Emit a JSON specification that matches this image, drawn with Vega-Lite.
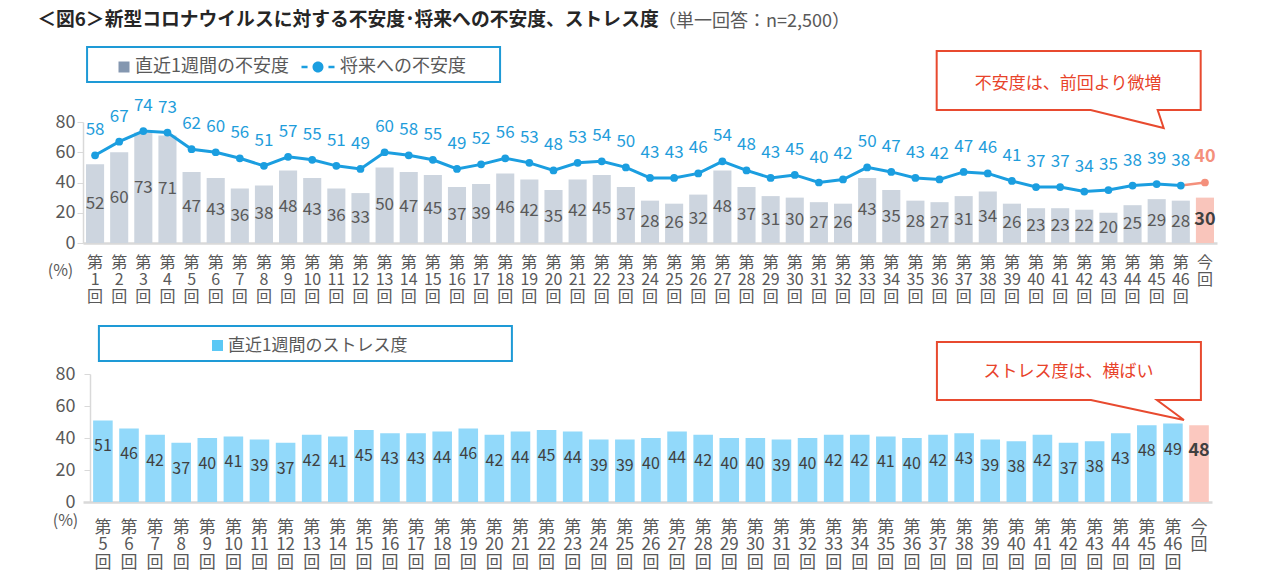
{
  "$schema": "https://vega.github.io/schema/vega-lite/v6.json",
  "background": "white",
  "padding": {"left": 37, "top": 10, "right": 5, "bottom": 5},
  "title": {
    "text": "＜図6＞新型コロナウイルスに対する不安度･将来への不安度、ストレス度",
    "anchor": "start",
    "frame": "bounds",
    "dx": -10,
    "font": "Noto Sans CJK JP",
    "fontSize": 18.8,
    "fontWeight": "bold",
    "color": "#262626",
    "offset": -17
  },
  "datasets": {
    "top": [
      {"r": "第1回", "直近1週間の不安度": 52, "将来への不安度": 58},
      {"r": "第2回", "直近1週間の不安度": 60, "将来への不安度": 67},
      {"r": "第3回", "直近1週間の不安度": 73, "将来への不安度": 74},
      {"r": "第4回", "直近1週間の不安度": 71, "将来への不安度": 73},
      {"r": "第5回", "直近1週間の不安度": 47, "将来への不安度": 62},
      {"r": "第6回", "直近1週間の不安度": 43, "将来への不安度": 60},
      {"r": "第7回", "直近1週間の不安度": 36, "将来への不安度": 56},
      {"r": "第8回", "直近1週間の不安度": 38, "将来への不安度": 51},
      {"r": "第9回", "直近1週間の不安度": 48, "将来への不安度": 57},
      {"r": "第10回", "直近1週間の不安度": 43, "将来への不安度": 55},
      {"r": "第11回", "直近1週間の不安度": 36, "将来への不安度": 51},
      {"r": "第12回", "直近1週間の不安度": 33, "将来への不安度": 49},
      {"r": "第13回", "直近1週間の不安度": 50, "将来への不安度": 60},
      {"r": "第14回", "直近1週間の不安度": 47, "将来への不安度": 58},
      {"r": "第15回", "直近1週間の不安度": 45, "将来への不安度": 55},
      {"r": "第16回", "直近1週間の不安度": 37, "将来への不安度": 49},
      {"r": "第17回", "直近1週間の不安度": 39, "将来への不安度": 52},
      {"r": "第18回", "直近1週間の不安度": 46, "将来への不安度": 56},
      {"r": "第19回", "直近1週間の不安度": 42, "将来への不安度": 53},
      {"r": "第20回", "直近1週間の不安度": 35, "将来への不安度": 48},
      {"r": "第21回", "直近1週間の不安度": 42, "将来への不安度": 53},
      {"r": "第22回", "直近1週間の不安度": 45, "将来への不安度": 54},
      {"r": "第23回", "直近1週間の不安度": 37, "将来への不安度": 50},
      {"r": "第24回", "直近1週間の不安度": 28, "将来への不安度": 43},
      {"r": "第25回", "直近1週間の不安度": 26, "将来への不安度": 43},
      {"r": "第26回", "直近1週間の不安度": 32, "将来への不安度": 46},
      {"r": "第27回", "直近1週間の不安度": 48, "将来への不安度": 54},
      {"r": "第28回", "直近1週間の不安度": 37, "将来への不安度": 48},
      {"r": "第29回", "直近1週間の不安度": 31, "将来への不安度": 43},
      {"r": "第30回", "直近1週間の不安度": 30, "将来への不安度": 45},
      {"r": "第31回", "直近1週間の不安度": 27, "将来への不安度": 40},
      {"r": "第32回", "直近1週間の不安度": 26, "将来への不安度": 42},
      {"r": "第33回", "直近1週間の不安度": 43, "将来への不安度": 50},
      {"r": "第34回", "直近1週間の不安度": 35, "将来への不安度": 47},
      {"r": "第35回", "直近1週間の不安度": 28, "将来への不安度": 43},
      {"r": "第36回", "直近1週間の不安度": 27, "将来への不安度": 42},
      {"r": "第37回", "直近1週間の不安度": 31, "将来への不安度": 47},
      {"r": "第38回", "直近1週間の不安度": 34, "将来への不安度": 46},
      {"r": "第39回", "直近1週間の不安度": 26, "将来への不安度": 41},
      {"r": "第40回", "直近1週間の不安度": 23, "将来への不安度": 37},
      {"r": "第41回", "直近1週間の不安度": 23, "将来への不安度": 37},
      {"r": "第42回", "直近1週間の不安度": 22, "将来への不安度": 34},
      {"r": "第43回", "直近1週間の不安度": 20, "将来への不安度": 35},
      {"r": "第44回", "直近1週間の不安度": 25, "将来への不安度": 38},
      {"r": "第45回", "直近1週間の不安度": 29, "将来への不安度": 39},
      {"r": "第46回", "直近1週間の不安度": 28, "将来への不安度": 38},
      {"r": "今回", "直近1週間の不安度": 30, "将来への不安度": 40}
    ],
    "bottom": [
      {"r": "第5回", "直近1週間のストレス度": 51},
      {"r": "第6回", "直近1週間のストレス度": 46},
      {"r": "第7回", "直近1週間のストレス度": 42},
      {"r": "第8回", "直近1週間のストレス度": 37},
      {"r": "第9回", "直近1週間のストレス度": 40},
      {"r": "第10回", "直近1週間のストレス度": 41},
      {"r": "第11回", "直近1週間のストレス度": 39},
      {"r": "第12回", "直近1週間のストレス度": 37},
      {"r": "第13回", "直近1週間のストレス度": 42},
      {"r": "第14回", "直近1週間のストレス度": 41},
      {"r": "第15回", "直近1週間のストレス度": 45},
      {"r": "第16回", "直近1週間のストレス度": 43},
      {"r": "第17回", "直近1週間のストレス度": 43},
      {"r": "第18回", "直近1週間のストレス度": 44},
      {"r": "第19回", "直近1週間のストレス度": 46},
      {"r": "第20回", "直近1週間のストレス度": 42},
      {"r": "第21回", "直近1週間のストレス度": 44},
      {"r": "第22回", "直近1週間のストレス度": 45},
      {"r": "第23回", "直近1週間のストレス度": 44},
      {"r": "第24回", "直近1週間のストレス度": 39},
      {"r": "第25回", "直近1週間のストレス度": 39},
      {"r": "第26回", "直近1週間のストレス度": 40},
      {"r": "第27回", "直近1週間のストレス度": 44},
      {"r": "第28回", "直近1週間のストレス度": 42},
      {"r": "第29回", "直近1週間のストレス度": 40},
      {"r": "第30回", "直近1週間のストレス度": 40},
      {"r": "第31回", "直近1週間のストレス度": 39},
      {"r": "第32回", "直近1週間のストレス度": 40},
      {"r": "第33回", "直近1週間のストレス度": 42},
      {"r": "第34回", "直近1週間のストレス度": 42},
      {"r": "第35回", "直近1週間のストレス度": 41},
      {"r": "第36回", "直近1週間のストレス度": 40},
      {"r": "第37回", "直近1週間のストレス度": 42},
      {"r": "第38回", "直近1週間のストレス度": 43},
      {"r": "第39回", "直近1週間のストレス度": 39},
      {"r": "第40回", "直近1週間のストレス度": 38},
      {"r": "第41回", "直近1週間のストレス度": 42},
      {"r": "第42回", "直近1週間のストレス度": 37},
      {"r": "第43回", "直近1週間のストレス度": 38},
      {"r": "第44回", "直近1週間のストレス度": 43},
      {"r": "第45回", "直近1週間のストレス度": 48},
      {"r": "第46回", "直近1週間のストレス度": 49},
      {"r": "今回", "直近1週間のストレス度": 48}
    ]
  },
  "spacing": 18,
  "resolve": {
    "scale": {"x": "independent", "y": "independent", "color": "independent", "shape": "independent"},
    "legend": {"color": "independent", "shape": "independent"}
  },
  "vconcat": [
    {
      "width": 1134,
      "height": 121,
      "data": {"name": "top"},
      "transform": [{"fold": ["直近1週間の不安度", "将来への不安度"], "as": ["key", "value"]}],
      "encoding": {
        "x": {
          "field": "r", "type": "nominal", "sort": null, "title": null,
          "scale": {"paddingInner": 0.25, "paddingOuter": 0.125},
          "axis": {
            "labelExpr": "datum.label == '今回' ? ['今', '回'] : ['第', slice(datum.label, 1, length(datum.label) - 1), '回']",
            "labelAngle": 0, "labelFontSize": 16, "labelColor": "#595959", "labelLineHeight": 17,
            "labelPadding": 11, "labelBaseline": "top", "labelOverlap": false, "labelBound": false,
            "ticks": false, "domainColor": "#d9d9d9", "domainWidth": 2.5
          }
        }
      },
      "layer": [
        {
          "transform": [{"filter": "datum.key == '直近1週間の不安度'"}],
          "mark": {"type": "bar"},
          "encoding": {
            "y": {
              "field": "value", "type": "quantitative", "scale": {"domain": [0, 80]},
              "axis": {
                "values": [0, 20, 40, 60, 80], "grid": false, "labelOverlap": false, "domainColor": "#d9d9d9", "domainWidth": 1.5,
                "tickColor": "#d9d9d9", "tickSize": 6, "labelFontSize": 18, "labelColor": "#595959", "labelPadding": 2,
                "title": "(%)", "titleAngle": 0, "titleX": -23, "titleY": 148, "titleFontSize": 16,
                "titleFontWeight": "normal", "titleColor": "#595959", "titleAlign": "center", "titleBaseline": "middle"
              }
            },
            "color": {"condition": {"test": "datum.r == '今回'", "value": "#f9c5bb"}, "value": "#cdd5df"}
          }
        },
        {
          "transform": [{"filter": "datum.key == '将来への不安度' && datum.r != '今回'"}],
          "mark": {"type": "line", "color": "#1b9ee0", "strokeWidth": 3},
          "encoding": {"y": {"field": "value", "type": "quantitative", "scale": {"domain": [0, 80]}, "axis": null}}
        },
        {
          "transform": [{"filter": "datum.key == '将来への不安度' && (datum.r == '第46回' || datum.r == '今回')"}],
          "mark": {"type": "line", "color": "#f4907c", "strokeWidth": 2.5},
          "encoding": {"y": {"field": "value", "type": "quantitative", "scale": {"domain": [0, 80]}, "axis": null}}
        },
        {
          "transform": [{"filter": "datum.key == '将来への不安度'"}],
          "mark": {"type": "point", "filled": true, "opacity": 1, "size": 60},
          "encoding": {
            "y": {"field": "value", "type": "quantitative", "scale": {"domain": [0, 80]}, "axis": null},
            "color": {"condition": {"test": "datum.r == '今回'", "value": "#f4907c"}, "value": "#1b9ee0"}
          }
        },
        {
          "transform": [{"filter": "datum.key == '将来への不安度'"}],
          "mark": {"type": "point", "filled": true, "opacity": 0},
          "encoding": {
            "y": {"field": "value", "type": "quantitative", "scale": {"domain": [0, 80]}, "axis": null},
            "color": {
              "field": "key", "type": "nominal",
              "scale": {"domain": ["直近1週間の不安度", "将来への不安度"], "range": ["#8497b0", "#1b9ee0"]},
              "legend": {
                "orient": "none", "legendX": 32, "legendY": -64, "direction": "horizontal",
                "title": null, "padding": 0,
                "labelFontSize": 18, "labelColor": "#595959", "labelOffset": 2, "labelLimit": 400,
                "symbolSize": 121, "symbolOpacity": 1, "symbolStrokeWidth": 0, "columnPadding": 12
              }
            },
            "shape": {
              "field": "key", "type": "nominal",
              "scale": {
                "domain": ["直近1週間の不安度", "将来への不安度"],
                "range": ["square", "M-5,-0.22H-3.9V0.22H-5Z M-3,0A1,1 0 1,1 -1,0A1,1 0 1,1 -3,0Z M-0.1,-0.22H1V0.22H-0.1Z"]
              },
              "legend": {
                "orient": "none", "legendX": 32, "legendY": -64, "direction": "horizontal",
                "title": null, "padding": 0,
                "labelFontSize": 18, "labelColor": "#595959", "labelOffset": 2, "labelLimit": 400,
                "symbolSize": 121, "symbolOpacity": 1, "symbolStrokeWidth": 0, "columnPadding": 12
              }
            }
          }
        },
        {
          "data": {"values": [{}]},
          "mark": {
            "type": "point", "shape": "M-8,-75H405V-40H-8Z", "size": 4,
            "filled": false, "stroke": "#1e9ad6", "strokeWidth": 2, "opacity": 1
          },
          "encoding": {
            "x": {"datum": "第1回", "type": "nominal"},
            "y": {"datum": 80, "type": "quantitative", "scale": {"domain": [0, 80]}, "axis": null}
          }
        },
        {
          "transform": [{"filter": "datum.key == '直近1週間の不安度' && datum.r != '今回'"}],
          "mark": {"type": "text", "fontSize": 17, "color": "#595959", "baseline": "middle"},
          "encoding": {
            "y": {"field": "value", "type": "quantitative", "scale": {"domain": [0, 160]}, "axis": null},
            "text": {"field": "value", "type": "quantitative"}
          }
        },
        {
          "transform": [{"filter": "datum.key == '直近1週間の不安度' && datum.r == '今回'"}],
          "mark": {"type": "text", "fontSize": 18, "fontWeight": "bold", "color": "#404040", "baseline": "middle"},
          "encoding": {
            "y": {"field": "value", "type": "quantitative", "scale": {"domain": [0, 160]}, "axis": null},
            "text": {"field": "value", "type": "quantitative"}
          }
        },
        {
          "transform": [{"filter": "datum.key == '将来への不安度' && datum.r != '今回'"}],
          "mark": {"type": "text", "fontSize": 17, "color": "#1f9ddb", "baseline": "middle", "dy": -25},
          "encoding": {
            "y": {"field": "value", "type": "quantitative", "scale": {"domain": [0, 80]}, "axis": null},
            "text": {"field": "value", "type": "quantitative"}
          }
        },
        {
          "transform": [{"filter": "datum.key == '将来への不安度' && datum.r == '今回'"}],
          "mark": {"type": "text", "fontSize": 18, "fontWeight": "bold", "color": "#f4907c", "baseline": "middle", "dy": -26},
          "encoding": {
            "y": {"field": "value", "type": "quantitative", "scale": {"domain": [0, 80]}, "axis": null},
            "text": {"field": "value", "type": "quantitative"}
          }
        },
        {
          "data": {"values": [{}]},
          "mark": {
            "type": "point", "shape": "M-220,-77H44V-18H1L7,0L-66,-18H-220Z", "size": 4,
            "fill": "#ffffff", "fillOpacity": 1, "stroke": "#e84a2f", "strokeWidth": 2, "opacity": 1
          },
          "encoding": {
            "x": {"datum": "第45回", "type": "nominal"},
            "y": {"datum": 76, "type": "quantitative", "scale": {"domain": [0, 80]}, "axis": null}
          }
        },
        {
          "data": {"values": [{}]},
          "mark": {"type": "text", "text": "不安度は、前回より微増", "fontSize": 17, "color": "#e8432a", "align": "center", "baseline": "middle", "dx": 8},
          "encoding": {
            "x": {"datum": "第41回", "type": "nominal"},
            "y": {"datum": 105, "type": "quantitative", "scale": {"domain": [0, 80]}, "axis": null}
          }
        },
        {
          "data": {"values": [{}]},
          "mark": {"type": "text", "text": "（単一回答：n=2,500）", "fontSize": 18, "color": "#595959", "align": "left", "baseline": "middle", "dx": 8},
          "encoding": {
            "x": {"datum": "第24回", "type": "nominal"},
            "y": {"datum": 146.4, "type": "quantitative", "scale": {"domain": [0, 80]}, "axis": null}
          }
        }
      ],
      "resolve": {"scale": {"y": "independent"}}
    },
    {
      "width": 1129,
      "height": 128,
      "data": {"name": "bottom"},
      "transform": [{"fold": ["直近1週間のストレス度"], "as": ["key", "value"]}],
      "encoding": {
        "x": {
          "field": "r", "type": "nominal", "sort": null, "title": null,
          "scale": {"paddingInner": 0.25, "paddingOuter": 0.255, "align": 0.76},
          "axis": {
            "labelExpr": "datum.label == '今回' ? ['今', '回'] : ['第', slice(datum.label, 1, length(datum.label) - 1), '回']",
            "labelAngle": 0, "labelFontSize": 17, "labelColor": "#595959", "labelLineHeight": 17.5,
            "labelPadding": 17, "labelBaseline": "top", "labelOverlap": false, "labelBound": false,
            "ticks": false, "domainColor": "#d9d9d9", "domainWidth": 2.5
          }
        }
      },
      "layer": [
        {
          "mark": {"type": "bar"},
          "encoding": {
            "y": {
              "field": "value", "type": "quantitative", "scale": {"domain": [0, 80]},
              "axis": {
                "values": [0, 20, 40, 60, 80], "grid": false, "labelOverlap": false, "offset": -7, "domainColor": "#d9d9d9", "domainWidth": 1.5,
                "tickColor": "#d9d9d9", "tickSize": 6, "labelFontSize": 18, "labelColor": "#595959", "labelPadding": 9,
                "title": "(%)", "titleAngle": 0, "titleX": -25, "titleY": 146, "titleFontSize": 16,
                "titleFontWeight": "normal", "titleColor": "#595959", "titleAlign": "center", "titleBaseline": "middle"
              }
            },
            "color": {"condition": {"test": "datum.r == '今回'", "value": "#fbc8bf"}, "value": "#92d9fa"}
          }
        },
        {
          "mark": {"type": "point", "filled": true, "opacity": 0},
          "encoding": {
            "y": {"field": "value", "type": "quantitative", "scale": {"domain": [0, 80]}, "axis": null},
            "color": {
              "field": "key", "type": "nominal",
              "scale": {"domain": ["直近1週間のストレス度"], "range": ["#5bc8f5"]},
              "legend": {
                "orient": "none", "legendX": 126, "legendY": -37, "direction": "horizontal",
                "title": null, "padding": 0,
                "labelFontSize": 17, "labelColor": "#595959", "labelOffset": 2, "labelLimit": 400,
                "symbolType": "square", "symbolSize": 121, "symbolOpacity": 1, "symbolStrokeWidth": 0
              }
            }
          }
        },
        {
          "data": {"values": [{}]},
          "mark": {
            "type": "point", "shape": "M-4,-48H409V-13H-4Z", "size": 4,
            "filled": false, "stroke": "#1e9ad6", "strokeWidth": 2, "opacity": 1
          },
          "encoding": {
            "x": {"datum": "第5回", "type": "nominal"},
            "y": {"datum": 80, "type": "quantitative", "scale": {"domain": [0, 80]}, "axis": null}
          }
        },
        {
          "transform": [{"filter": "datum.r != '今回'"}],
          "mark": {"type": "text", "fontSize": 16, "color": "#404040", "baseline": "middle", "dy": 26},
          "encoding": {
            "y": {"field": "value", "type": "quantitative", "scale": {"domain": [0, 80]}, "axis": null},
            "text": {"field": "value", "type": "quantitative"}
          }
        },
        {
          "transform": [{"filter": "datum.r == '今回'"}],
          "mark": {"type": "text", "fontSize": 18, "fontWeight": "bold", "color": "#404040", "baseline": "middle", "dy": 26},
          "encoding": {
            "y": {"field": "value", "type": "quantitative", "scale": {"domain": [0, 80]}, "axis": null},
            "text": {"field": "value", "type": "quantitative"}
          }
        },
        {
          "data": {"values": [{}]},
          "mark": {
            "type": "point", "shape": "M-236,-78H28V-20H-16L11,0L-82,-20H-236Z", "size": 4,
            "fill": "#ffffff", "fillOpacity": 1, "stroke": "#e84a2f", "strokeWidth": 2, "opacity": 1
          },
          "encoding": {
            "x": {"datum": "第46回", "type": "nominal"},
            "y": {"datum": 51.25, "type": "quantitative", "scale": {"domain": [0, 80]}, "axis": null}
          }
        },
        {
          "data": {"values": [{}]},
          "mark": {"type": "text", "text": "ストレス度は、横ばい", "fontSize": 17, "color": "#e8432a", "align": "center", "baseline": "middle"},
          "encoding": {
            "x": {"datum": "第42回", "type": "nominal"},
            "y": {"datum": 81.25, "type": "quantitative", "scale": {"domain": [0, 80]}, "axis": null}
          }
        }
      ],
      "resolve": {"scale": {"y": "independent"}}
    }
  ],
  "config": {
    "view": {"stroke": null},
    "font": "Noto Sans CJK JP"
  }
}
